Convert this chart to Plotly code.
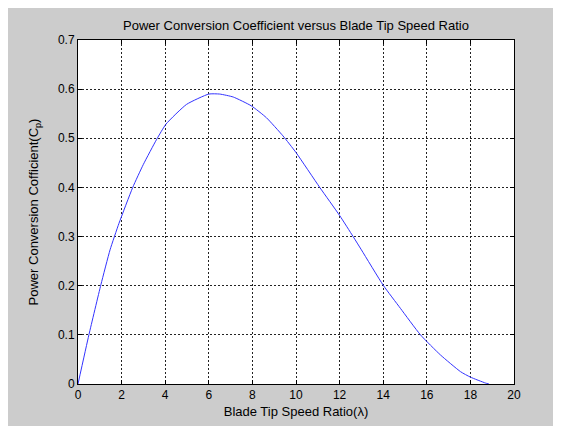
import plotly.graph_objects as go

# Blade tip speed ratio (lambda) and power conversion coefficient (Cp)
tip_speed_ratio = [0, 0.5, 1.05, 1.47, 1.88, 2.51, 3.0, 3.61, 4.04, 4.98, 6.0, 6.5,
                   7.12, 7.95, 8.64, 9.40, 10.0, 11.09, 12.0, 12.62, 13.0,
                   14.0, 14.79, 15.71, 16.63, 17.55, 18.0, 18.69, 18.85]
power_coefficient = [0, 0.1, 0.202, 0.273, 0.327, 0.40, 0.447, 0.498, 0.529, 0.569, 0.590, 0.590,
                     0.584, 0.566, 0.542, 0.505, 0.471, 0.400, 0.343, 0.300, 0.273,
                     0.201, 0.154, 0.100, 0.059, 0.025, 0.014, 0.002, 0.0]

x_ticks = list(range(0, 21, 2))
y_ticks = [0, 0.1, 0.2, 0.3, 0.4, 0.5, 0.6, 0.7]
y_tick_labels = ["0", "0.1", "0.2", "0.3", "0.4", "0.5", "0.6", "0.7"]

title_text = "Power Conversion Coefficient versus Blade Tip Speed Ratio"
x_title = "Blade Tip Speed Ratio(λ)"
y_title = "Power Conversion Cofficient(C<sub>p</sub>)"

FONT = "Liberation Sans, Arial, Helvetica, sans-serif"

fig = go.Figure()
fig.add_trace(go.Scatter(
    x=tip_speed_ratio, y=power_coefficient, mode="lines",
    line=dict(color="#3333ff", width=1, shape="spline", smoothing=0.5),
    showlegend=False, hoverinfo="x+y",
))

# the page adds an 8px body margin, so the figure is laid out relative to that
W, H = 561, 426
L, R, T, B = 70, 55, 32, 50
pw = W - L - R

axis_common = dict(
    showline=True, linecolor="black", linewidth=1, mirror="ticks",
    ticks="inside", ticklen=4, tickcolor="black", tickwidth=1,
    showgrid=True, gridcolor="#222222", gridwidth=1, griddash="2px,2px",
    zeroline=False, automargin=False,
    tickfont=dict(family=FONT, size=12, color="black"),
)

fig.update_xaxes(
    range=[0, 20], tickmode="array", tickvals=x_ticks,
    title=dict(text=x_title, font=dict(family=FONT, size=13, color="black"), standoff=5),
    **axis_common,
)
fig.update_yaxes(
    range=[0, 0.7], tickmode="array", tickvals=y_ticks, ticktext=y_tick_labels,
    title=dict(text=y_title, font=dict(family=FONT, size=13, color="black"), standoff=16),
    **axis_common,
)

fig.update_layout(
    width=W, height=H,
    margin=dict(l=L, r=R, t=T, b=B, pad=0),
    paper_bgcolor="#cccccc", plot_bgcolor="white",
    title=dict(text=title_text, x=(L + pw / 2) / W, xanchor="center",
               y=1 - 17 / H, yanchor="middle",
               font=dict(family=FONT, size=13, color="black")),
    font=dict(family=FONT, size=12, color="black"),
)

fig.write_html("out.html")
